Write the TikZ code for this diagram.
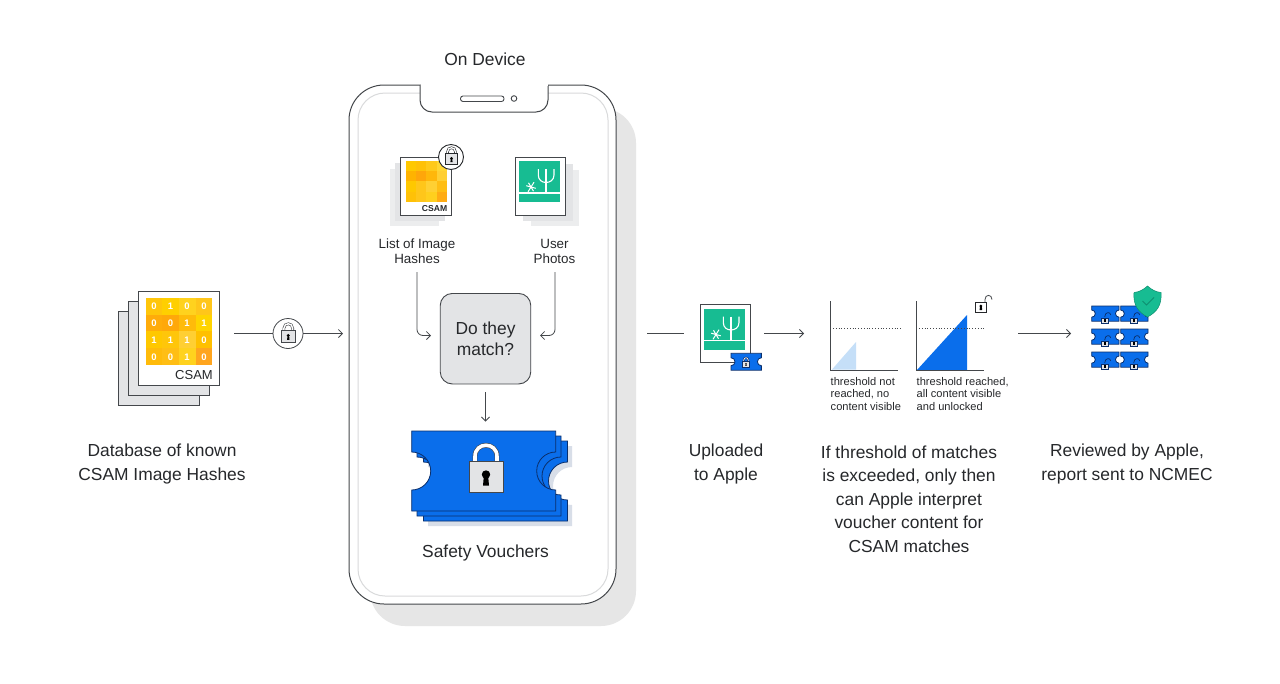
\documentclass[tikz,border=0pt]{standalone}
\usepackage{fontspec}
\setmainfont{Liberation Sans}
\usetikzlibrary{arrows.meta}
\definecolor{ink}{HTML}{26282B}
\definecolor{edge}{HTML}{44474B}
\definecolor{paleg}{HTML}{E3E4E6}
\definecolor{paleh}{HTML}{ECEDEE}
\definecolor{phoneshade}{HTML}{E6E6E6}
\definecolor{bez}{HTML}{D9DADB}
\definecolor{tick}{HTML}{0A6EEB}
\definecolor{tickd}{HTML}{0B2F6B}
\definecolor{tshadow}{HTML}{D8DEE8}
\definecolor{grn}{HTML}{17BC92}
\definecolor{grnd}{HTML}{0E8F70}
\definecolor{lblue}{HTML}{C5DFF8}
\newcommand{\fs}[2]{\fontsize{#1}{#2}\selectfont}
\tikzset{
  line/.style={draw=edge,line width=0.8pt},
  arrowline/.style={line,-{Straight Barb[length=4pt,width=8pt]}},
  card/.style={draw=edge,line width=0.9pt,fill=white},
  stackcard/.style={draw=edge,line width=0.9pt,fill=paleg},
  label/.style={text=ink,align=center,inner sep=0pt,font=\fs{17.4}{23.6}},
  midlabel/.style={text=ink,align=center,inner sep=0pt,font=\fs{13.4}{15}},
  tinylabel/.style={text=ink,align=left,inner sep=0pt,anchor=west,font=\fs{11.1}{12.6}},
  ticketshape/.style={draw=tickd,line width=0.8pt,fill=tick},
}
% ticket: top-left x,y, scale, extra options
\newcommand{\ticketat}[4]{%
 \begin{scope}[shift={(#1,#2)},scale=#3]
  \path[ticketshape,#4] (0,0) -- (144,0) -- (144,21)
    .. controls (133.5,21) and (125,29.5) .. (125,40)
    .. controls (125,50.5) and (133.5,59) .. (144,59)
    -- (144,80) -- (0,80) -- (0,59)
    .. controls (10.5,59) and (19,50.5) .. (19,40)
    .. controls (19,29.5) and (10.5,21) .. (0,21) -- cycle;
 \end{scope}}
% lock: centre of body x,y, scale (body 34x31), shackle colour, body edge colour
\newcommand{\lockat}[5]{%
 \begin{scope}[shift={(#1,#2)},scale=#3]
  \draw[#5,line width=#3*3.6pt+1.2pt] (-11,-14) -- (-11,-20) .. controls (-11,-35) and (11,-35) .. (11,-20) -- (11,-14);
  \draw[#4,line width=#3*3.6pt] (-11,-14) -- (-11,-20) .. controls (-11,-35) and (11,-35) .. (11,-20) -- (11,-14);
  \draw[#5,line width=0.8pt,fill=paleg] (-17,-15.5) rectangle (17,15.5);
  \fill[black] (0,-2) circle (4.2);
  \fill[black] (-2.2,0) -- (2.2,0) -- (3,9) -- (-3,9) -- cycle;
 \end{scope}}
% yellow grid: x, y, cell size, colours list
\newcommand{\gridat}[4]{%
 \foreach \cc [count=\i from 0] in {#4} {
   \pgfmathtruncatemacro{\cx}{mod(\i,4)}
   \pgfmathtruncatemacro{\cy}{int(\i/4)}
   \definecolor{cellc}{HTML}{\cc}
   \fill[cellc] ({#1+\cx*#3},{#2+\cy*#3}) rectangle ({#1+(\cx+1)*#3+0.1},{#2+(\cy+1)*#3+0.1});
 }}
% green photo: x,y of the green square
\newcommand{\photoat}[2]{%
 \begin{scope}[shift={(#1,#2)}]
  \fill[grn] (0,0) rectangle (41,41);
  \draw[white,line width=1.1pt] (0,32) -- (41,32);
  \draw[white,line width=1.1pt] (27,8) -- (27,32);
  \draw[white,line width=1.1pt] (19.3,8) -- (19.3,14) .. controls (19.3,19) and (23,21.5) .. (27,21.5) .. controls (31,21.5) and (35,19) .. (35,14) -- (35,8);
  \draw[white,line width=1pt] (7.2,24.7) -- (16.8,27.3) (9,30.8) -- (15,21.2) (9.5,21.8) -- (14.5,30.2);
 \end{scope}}
\begin{document}
\begin{tikzpicture}[x=1pt,y=-1pt]
\useasboundingbox (0,0) rectangle (1280,683);
\fill[white] (0,0) rectangle (1280,683);

% ---- database stack
\draw[stackcard] (118.5,311) rectangle (199,405);
\draw[stackcard] (128.5,301) rectangle (209,395);
\node[card,minimum width=81pt,minimum height=94pt,inner sep=0pt] (dbcard) at (178.5,338) {};
\gridat{145.5}{298}{16.7}{FFC60A,FFCF00,FFD21E,FFC61A,FFAC0A,FFA80A,FFBB0A,FFD400,FFC800,FFC60A,FFCF33,FFC000,FFBB0A,FFBE14,FFD21E,FFA51E}
\foreach \yy [count=\r] in {306.5,323,340,357}{
  \foreach \xx/\vv [count=\c] in {
    154/{\ifcase\r\or0\or0\or1\or0\fi},
    170.5/{\ifcase\r\or1\or0\or1\or0\fi},
    187/{\ifcase\r\or0\or1\or1\or1\fi},
    204/{\ifcase\r\or0\or1\or0\or0\fi}}{
    \node[text=white,inner sep=0pt,font=\fs{9.5}{11}\bfseries] at (\xx,\yy) {\vv};
  }}
\node[text=ink,inner sep=0pt,anchor=east,font=\fs{13}{15}] (dbtag) at (213,375.5) {CSAM};
\node[label] (dblabel) at (162,464) {Database of known\\CSAM Image Hashes};

% ---- connector with lock
\coordinate (c1a) at (234,333.5);
\coordinate (c1b) at (343,333.5);
\node[circle,draw=edge,line width=0.8pt,fill=white,minimum size=30pt,inner sep=0pt] (lockA) at (288,333.5) {};
\draw[line] (c1a) -- (lockA);
\draw[arrowline] (lockA) -- (c1b);
\lockat{288.3}{336.3}{0.4}{white}{edge}

% ---- phone
\fill[phoneshade,rounded corners=35pt] (370,108) rectangle (636,626);
\node[draw=edge,line width=1pt,fill=white,rounded corners=35pt,minimum width=267pt,minimum height=519pt,inner sep=0pt] (phone) at (482.5,344.5) {};
\draw[bez,line width=1pt,rounded corners=27pt] (358,93) rectangle (608,596);
\filldraw[draw=edge,line width=1pt,fill=white,rounded corners=12pt] (420,85) -- (420,112) -- (548,112) -- (548,85);
\fill[white] (420.5,84) rectangle (547.5,85.5);
\draw[edge,line width=0.9pt,rounded corners=2.5pt] (460.5,96) rectangle (504,101.5);
\draw[edge,line width=0.9pt] (514,98.5) circle (2.8);
\node[text=ink,inner sep=0pt,font=\fs{17.4}{18}] (ondevice) at (485,59) {On Device};

% ---- small CSAM card
\fill[paleh] (390,169) rectangle (439,226);
\fill[paleg] (395,163) rectangle (445,221);
\node[card,minimum width=50.5pt,minimum height=58pt,inner sep=0pt] (listcard) at (426,186) {};
\gridat{406}{161}{10.2}{FFC800,FFC107,FFC91A,FFD633,FFB300,FFA60A,FFB70A,FFCF33,FFC800,FFC61A,FFD033,FFBE14,FFC107,FFC61A,FFCF1E,FFAC14}
\node[text=ink,inner sep=0pt,anchor=east,font=\fs{8.6}{10}\bfseries] (listtag) at (447.5,208.5) {CSAM};
\node[circle,draw=ink,line width=0.9pt,fill=white,minimum size=25pt,inner sep=0pt] (lockB) at (451,157) {};
\lockat{451.5}{159}{0.36}{white}{ink}
\node[midlabel] (listlabel) at (417,251) {List of Image\\Hashes};

% ---- small photo card
\fill[paleh] (531,170) rectangle (579,226);
\fill[paleg] (523,164) rectangle (573,221);
\node[card,minimum width=50pt,minimum height=58pt,inner sep=0pt] (photocard) at (540,186) {};
\photoat{519}{161}
\node[midlabel] (photolabel) at (554.5,251) {User\\Photos};

% ---- match box
\node[draw=edge,line width=0.9pt,fill=paleg,rounded corners=12pt,minimum width=90.5pt,minimum height=90.5pt,inner sep=0pt,align=center,text=ink,font=\fs{17.4}{21}] (match) at (485.5,338.7) {Do they\\match?};
\coordinate (m1) at (417,272);
\coordinate (m2) at (431,335.5);
\coordinate (m3) at (555,272);
\coordinate (m4) at (540,335.5);
\draw[arrowline,rounded corners=6pt] (m1) |- (m2);
\draw[arrowline,rounded corners=6pt] (m3) |- (m4);
\coordinate (m5) at (485.5,421.5);
\draw[arrowline] ([yshift=-8pt]match.south) -- (m5);

% ---- vouchers
\ticketat{428}{446}{1.0}{draw=none,fill=tshadow}
\ticketat{423.5}{441}{1.0}{}
\ticketat{417}{436}{1.0}{}
\ticketat{411.7}{431}{1.0}{}
\lockat{486}{476.5}{1}{white}{edge}
\node[text=ink,inner sep=0pt,font=\fs{17.4}{18}] (vlabel) at (485.5,553) {Safety Vouchers};

% ---- upload
\coordinate (u1) at (647,333.5);
\coordinate (u2) at (684,333.5);
\draw[line] (u1) -- (u2);
\node[draw=edge,line width=0.9pt,fill=white,minimum width=50pt,minimum height=58pt,inner sep=0pt] (upcard) at (725,333) {};
\photoat{704}{308.5}
\ticketat{731}{353.3}{0.211}{}
\lockat{746}{364}{0.2}{white}{tickd}
\node[label] (uplabel) at (726,464) {Uploaded\\to Apple};
\coordinate (u3) at (764,333.5);
\coordinate (u4) at (804,333.5);
\draw[arrowline] (u3) -- (u4);

% ---- chart 1
\fill[lblue] (832,369.5) -- (856,342) -- (856,369.5) -- cycle;
\draw[edge,line width=0.9pt] (830.5,301) -- (830.5,370) -- (898,370);
\draw[edge,line width=0.8pt,dotted] (833,328.5) -- (901,328.5);
\node[tinylabel] (t1) at (830.5,394) {threshold not\\reached, no\\content visible};
% ---- chart 2
\fill[tick] (917,370) -- (967,315) -- (967,370) -- cycle;
\draw[edge,line width=0.8pt,dotted] (919,328.5) -- (986,328.5);
\draw[edge,line width=0.9pt] (916.5,301) -- (916.5,370) -- (984,370);
\node[tinylabel] (t2) at (916.5,394) {threshold reached,\\all content visible\\and unlocked};
\draw[edge,line width=0.8pt] (985,302) -- (985,299.5) .. controls (985,294) and (992,294) .. (992,299.5);
\draw[ink,line width=0.9pt,fill=white] (975.8,302) rectangle (986,312.3);
\fill[black] (980.9,306) circle (1.5);
\fill[black] (980,306) -- (981.8,306) -- (982.2,310) -- (979.6,310) -- cycle;
\node[label] (thlabel) at (909,499) {If threshold of matches\\is exceeded, only then\\can Apple interpret\\voucher content for\\CSAM matches};

% ---- review
\coordinate (r1) at (1018,333.5);
\coordinate (r2) at (1071,333.5);
\draw[arrowline] (r1) -- (r2);
\foreach \yy in {306,329,352}{
  \foreach \xx in {1091.7,1120.7}{
    \ticketat{\xx}{\yy}{0.19}{}
    \draw[tickd,line width=0.7pt] ({\xx+13},{\yy+11}) .. controls ({\xx+13},{\yy+5.5}) and ({\xx+19},{\yy+5.5}) .. ({\xx+19},{\yy+9});
    \draw[tickd,line width=0.6pt,fill=paleg] ({\xx+10},{\yy+11.8}) rectangle ({\xx+16.6},{\yy+17.6});
    \fill[black] ({\xx+12.6},{\yy+13.2}) rectangle ({\xx+14},{\yy+16.2});
  }}
\path[fill=grn,draw=grnd,line width=0.5pt] (1147.5,286) .. controls (1143,290) and (1139,292) .. (1134,292.5)
  .. controls (1133,305) and (1138,312) .. (1147.5,317)
  .. controls (1157,312) and (1162,305) .. (1161,292.5)
  .. controls (1156,292) and (1152,290) .. cycle;
\draw[grnd,line width=1pt] (1142.5,301) -- (1146.5,305) -- (1154,297.5);
\node[label] (revlabel) at (1127,464) {Reviewed by Apple,\\report sent to NCMEC};
\end{tikzpicture}
\end{document}
